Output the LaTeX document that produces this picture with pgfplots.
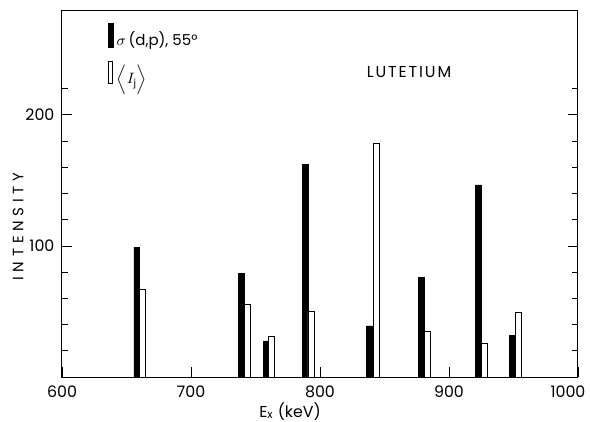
\documentclass[border=0pt]{standalone}
\usepackage{fontspec}
\setmainfont{Poppins}
\newfontfamily\spaced[LetterSpace=32]{Poppins}
\newfontfamily\spacedb[LetterSpace=12]{Poppins}
\usepackage{pgfplots}
\pgfplotsset{compat=1.18}
\begin{document}
\begin{tikzpicture}
\path[use as bounding box] (-37.2pt,-26.4pt) rectangle (316.8pt,226.2pt);
\begin{axis}[
  anchor=south west, at={(0,0)},
  width=309.6pt, height=220.2pt, scale only axis,
  xmin=600, xmax=1000, ymin=0, ymax=280,
  xtick={600,700,800,900},
  extra x ticks={1000},
  extra x tick style={xticklabel style={xshift=-6pt}},
  ytick={100,200}, minor ytick={20,40,60,80,120,140,160,180,220},
  xtick pos=bottom,
  tick align=inside,
  major tick length=6pt, minor tick length=3.5pt,
  every tick/.style={black, line width=0.5pt},
  axis line style={line width=0.6pt},
  /pgf/number format/assume math mode=true,
  /pgf/number format/1000 sep={},
  ticklabel style={font=\fontsize{9.5}{10}\selectfont},
  xticklabel style={yshift=-2pt},
  yticklabel style={xshift=-1pt},
  xlabel={E$_{\mathrm{x}}$ (keV)},
  xlabel style={at={(rel axis cs:0.442,-0.093)}, anchor=center, font=\fontsize{9.5}{10}\selectfont},
  ylabel={\spaced INTENSITY},
  ylabel style={at={(rel axis cs:-0.085,0.41)}, anchor=center, font=\fontsize{9}{10}\selectfont},
  legend style={draw=none, fill=none, at={(rel axis cs:0.088,0.965)}, anchor=north west,
    font=\fontsize{9}{10}\selectfont, row sep=6pt, inner sep=0pt},
  legend cell align=left,
]
\addplot[ybar, bar width=4.6, bar shift=0pt, fill=black, draw=black,
  legend image code/.code={\draw[fill=black,draw=black] (0pt,-0.45em) rectangle (3pt,0.95em);}]
  coordinates {(658,99) (738.8,79) (758.5,27.5) (788.8,162) (838,39) (878.7,76) (923,146.5) (949,32)};
\addlegendentry{$\sigma$\,(d,p), 55°}
\addplot[ybar, bar width=4.6, bar shift=0pt, fill=white, draw=black, line width=0.5pt,
  legend image code/.code={\draw[fill=white,draw=black,line width=0.5pt] (0.3pt,-0.45em) rectangle (2.7pt,0.85em);}]
  coordinates {(662.5,67) (743.4,55) (762.4,31) (793,50) (843.5,178) (883.5,35) (927.5,26) (953.5,49)};
\addlegendentry{$\Big\langle I_{\mathrm{j}}\Big\rangle$}
\node[font=\fontsize{9.5}{10}\selectfont\spacedb] at (axis cs:869,233) {LUTETIUM};
\end{axis}
\end{tikzpicture}
\end{document}
